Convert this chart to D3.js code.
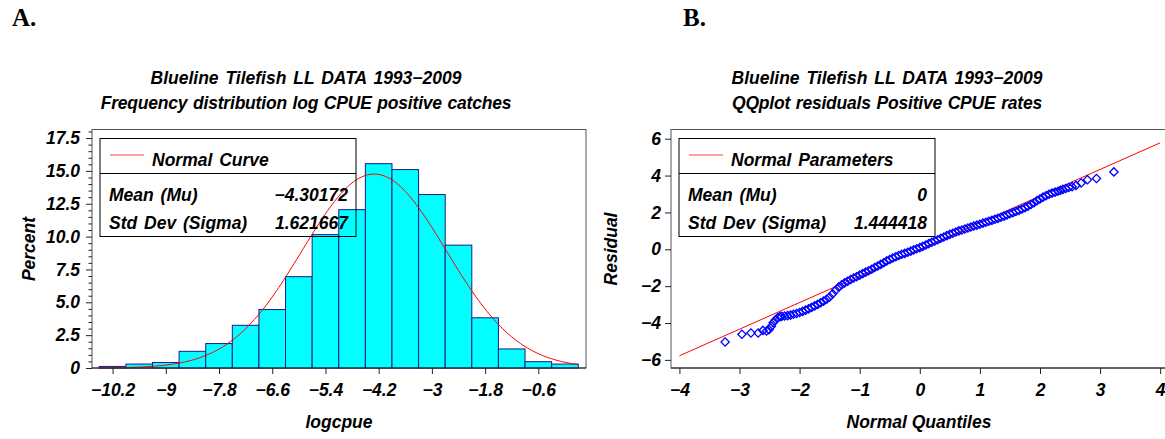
<!DOCTYPE html>
<html>
<head>
<meta charset="utf-8">
<script src="https://cdn.jsdelivr.net/npm/d3@7"></script>
<style>
  body { margin: 0; background: #fff; }
  svg text { font-family: "Liberation Sans", Arial, sans-serif; font-style: italic; font-weight: bold; font-size: 17.5px; fill: #000; }
  .axis path { display: none; }
  .axis line { stroke: #222; }
</style>
</head>
<body>
<div id="chart"></div>
<script>
// ---- panel A: histogram of log CPUE ----
const binMids = [-10.2, -9.6, -9.0, -8.4, -7.8, -7.2, -6.6, -6.0, -5.4, -4.8, -4.2, -3.6, -3.0, -2.4, -1.8, -1.2, -0.6, 0.0];
const binPercent = [0.12, 0.3, 0.42, 1.27, 1.86, 3.25, 4.45, 6.95, 10.15, 12.05, 15.55, 15.1, 13.2, 9.35, 3.82, 1.45, 0.48, 0.3];
const binWidth = 0.6;
const histXTicks = [-10.2, -9, -7.8, -6.6, -5.4, -4.2, -3, -1.8, -0.6];
const histYTicks = [0, 2.5, 5, 7.5, 10, 12.5, 15, 17.5];
const histYLabels = ["0", "2.5", "5.0", "7.5", "10.0", "12.5", "15.0", "17.5"];
const histMu = -4.30172;
const histSigma = 1.621667;

// ---- panel B: QQ plot of residuals ----
const qqQuantiles = [
  -3.24, -2.96, -2.81, -2.69, -2.61, -2.55, -2.51, -2.47, -2.44, -2.40, -2.36, -2.33,
  -2.30, -2.25, -2.20, -2.15, -2.10, -2.05, -2.00, -1.95, -1.90, -1.85, -1.80, -1.75,
  -1.70, -1.65, -1.60, -1.55, -1.50, -1.45, -1.40, -1.35, -1.30, -1.25, -1.20, -1.15,
  -1.10, -1.05, -1.00, -0.95, -0.90, -0.85, -0.80, -0.75, -0.70, -0.65, -0.60, -0.55,
  -0.50, -0.45, -0.40, -0.35, -0.30, -0.25, -0.20, -0.15, -0.10, -0.05, 0.00, 0.05,
  0.10, 0.15, 0.20, 0.25, 0.30, 0.35, 0.40, 0.45, 0.50, 0.55, 0.60, 0.65,
  0.70, 0.75, 0.80, 0.85, 0.90, 0.95, 1.00, 1.05, 1.10, 1.15, 1.20, 1.25,
  1.30, 1.35, 1.40, 1.45, 1.50, 1.55, 1.60, 1.65, 1.70, 1.75, 1.80, 1.85,
  1.90, 1.95, 2.00, 2.05, 2.10, 2.15, 2.20, 2.25, 2.30,
  2.34, 2.38, 2.43, 2.48, 2.535, 2.60, 2.685, 2.79, 2.94, 3.23
];
const qqResiduals = [
  -5.03, -4.61, -4.54, -4.54, -4.40, -4.43, -4.36, -4.18, -3.98, -3.82, -3.70, -3.66,
  -3.64, -3.62, -3.60, -3.57, -3.52, -3.48, -3.43, -3.37, -3.30, -3.23, -3.15, -3.07,
  -2.99, -2.90, -2.81, -2.71, -2.59, -2.41, -2.22, -2.05, -1.92, -1.82, -1.73, -1.64,
  -1.56, -1.49, -1.40, -1.32, -1.24, -1.16, -1.08, -0.99, -0.91, -0.82, -0.73, -0.63,
  -0.55, -0.47, -0.40, -0.34, -0.27, -0.22, -0.16, -0.10, -0.03, 0.03, 0.09, 0.16,
  0.23, 0.31, 0.38, 0.45, 0.52, 0.60, 0.67, 0.74, 0.81, 0.87, 0.94, 1.00,
  1.05, 1.10, 1.16, 1.21, 1.26, 1.31, 1.36, 1.42, 1.47, 1.52, 1.57, 1.63,
  1.68, 1.74, 1.80, 1.86, 1.93, 1.99, 2.05, 2.11, 2.19, 2.26, 2.34, 2.43,
  2.53, 2.64, 2.73, 2.83, 2.91, 2.99, 3.05, 3.10, 3.15,
  3.20, 3.25, 3.30, 3.35, 3.40, 3.47, 3.60, 3.77, 3.84, 4.20
];
const qqXTicks = [-4, -3, -2, -1, 0, 1, 2, 3, 4];
const qqYTicks = [-6, -4, -2, 0, 2, 4, 6];
const qqMu = 0;
const qqSigma = 1.444418;

const minus = s => String(s).replace("-", "\u2212");

const svg = d3.select("#chart").append("svg")
    .attr("width", 1165)
    .attr("height", 439);

// panel letters
svg.selectAll(".panel-letter")
    .data([{ t: "A.", x: 12 }, { t: "B.", x: 683 }])
    .join("text")
    .attr("x", d => d.x)
    .attr("y", 26)
    .style("font-family", "'Liberation Serif', 'Times New Roman', serif")
    .style("font-style", "normal")
    .style("font-size", "25px")
    .text(d => d.t);

function titles(cx, line2) {
    svg.append("text").attr("x", cx).attr("y", 84).attr("text-anchor", "middle")
        .style("word-spacing", "2px").text("Blueline Tilefish LL DATA 1993\u22122009");
    svg.append("text").attr("x", cx).attr("y", 109).attr("text-anchor", "middle")
        .style("word-spacing", "1px").style("letter-spacing", "-0.2px").text(line2);
}

function legend(left, header, rows) {
    const top = 138.5, right = left + 256;
    const g = svg.append("g");
    g.append("rect").attr("x", left).attr("y", top).attr("width", right - left).attr("height", 98)
        .attr("fill", "none").attr("stroke", "#000");
    g.append("line").attr("x1", left).attr("x2", right).attr("y1", 173.5).attr("y2", 173.5).attr("stroke", "#000");
    g.append("line").attr("x1", left + 10).attr("x2", left + 44).attr("y1", 155).attr("y2", 155)
        .attr("stroke", "#ff4040").attr("stroke-width", 1);
    g.append("text").attr("x", left + 52).attr("y", 166).style("word-spacing", "2px").text(header);
    rows.forEach((r, i) => {
        const y = i === 0 ? 201 : 228.5;
        g.append("text").attr("x", left + 9).attr("y", y).style("word-spacing", "2px").text(r[0]);
        g.append("text").attr("x", right - 8).attr("y", y).attr("text-anchor", "end").text(r[1]);
    });
}

// ================= panel A =================
const hx = d3.scaleLinear().domain([-10.664, 0.475]).range([92, 586]);
const hy = d3.scaleLinear().domain([0, 18.15]).range([368, 129.5]);

titles(306, "Frequency distribution log CPUE positive catches");

svg.append("rect").attr("x", 92).attr("y", 129.5).attr("width", 494).attr("height", 238.5)
    .attr("fill", "none").attr("stroke", "#555");

svg.append("g").selectAll("rect")
    .data(binMids.map((m, i) => ({ m, p: binPercent[i] })))
    .join("rect")
    .attr("x", d => hx(d.m - binWidth / 2))
    .attr("width", d => hx(d.m + binWidth / 2) - hx(d.m - binWidth / 2))
    .attr("y", d => hy(d.p))
    .attr("height", d => hy(0) - hy(d.p))
    .attr("fill", "#00ffff")
    .attr("stroke", "#1a1a8a")
    .attr("stroke-width", 1);

// fitted normal curve (percent per bin)
const curveXs = d3.range(-10.5, 0.3001, 0.05);
const normalPct = x => 100 * binWidth / (histSigma * Math.sqrt(2 * Math.PI)) *
    Math.exp(-0.5 * Math.pow((x - histMu) / histSigma, 2));
svg.append("path")
    .datum(curveXs)
    .attr("d", d3.line().x(d => hx(d)).y(d => hy(normalPct(d))))
    .attr("fill", "none")
    .attr("stroke", "#ff0000")
    .attr("stroke-width", 1);

svg.append("g").attr("class", "axis")
    .attr("transform", "translate(92,0)")
    .call(d3.axisLeft(hy).tickValues(histYTicks).tickFormat((d, i) => histYLabels[i]).tickSize(6).tickPadding(6));
svg.append("g").attr("class", "axis")
    .attr("transform", "translate(92,0)")
    .call(d3.axisLeft(hy).tickValues(d3.range(0, 18.01, 0.5).filter(v => v % 2.5 !== 0)).tickFormat("").tickSize(3.5));
svg.append("line").attr("x1", 92).attr("x2", 586).attr("y1", 368).attr("y2", 368).attr("stroke", "#222");
svg.append("g").attr("class", "axis")
    .attr("transform", "translate(0,368)")
    .call(d3.axisBottom(hx).tickValues(histXTicks).tickFormat(minus).tickSize(6).tickPadding(10));

legend(100, "Normal Curve", [["Mean (Mu)", minus(histMu)], ["Std Dev (Sigma)", String(histSigma)]]);

svg.append("text").attr("transform", "translate(35,249) rotate(-90)").attr("text-anchor", "middle").text("Percent");
svg.append("text").attr("x", 339).attr("y", 428).attr("text-anchor", "middle").text("logcpue");

// ================= panel B =================
const qx = d3.scaleLinear().domain([-4.14, 4.15]).range([671, 1169.2]);
const qy = d3.scaleLinear().domain([-6.44, 6.5]).range([368, 129.5]);

titles(887, "QQplot residuals Positive CPUE rates");

svg.append("rect").attr("x", 671).attr("y", 129.5).attr("width", 498).attr("height", 238.5)
    .attr("fill", "none").attr("stroke", "#555");

svg.append("path")
    .datum([-4, 4])
    .attr("d", d3.line().x(d => qx(d)).y(d => qy(qqMu + qqSigma * d)))
    .attr("stroke", "#ff0000")
    .attr("stroke-width", 1);

const diamond = d3.symbol().type(d3.symbolSquare).size(34);
svg.append("g").selectAll("path")
    .data(qqQuantiles.map((q, i) => ({ q, r: qqResiduals[i] })))
    .join("path")
    .attr("d", diamond)
    .attr("transform", d => `translate(${qx(d.q)},${qy(d.r)}) rotate(45)`)
    .attr("fill", "none")
    .attr("stroke", "#0000ff")
    .attr("stroke-width", 1.3);

svg.append("g").attr("class", "axis")
    .attr("transform", "translate(671,0)")
    .call(d3.axisLeft(qy).tickValues(qqYTicks).tickFormat(minus).tickSize(6).tickPadding(4));
svg.append("line").attr("x1", 671).attr("x2", 1165).attr("y1", 368).attr("y2", 368).attr("stroke", "#222");
svg.append("g").attr("class", "axis")
    .attr("transform", "translate(0,368)")
    .call(d3.axisBottom(qx).tickValues(qqXTicks).tickFormat(minus).tickSize(6).tickPadding(10));

legend(679, "Normal Parameters", [["Mean (Mu)", String(qqMu)], ["Std Dev (Sigma)", String(qqSigma)]]);

svg.append("text").attr("transform", "translate(617,249) rotate(-90)").attr("text-anchor", "middle").text("Residual");
svg.append("text").attr("x", 919).attr("y", 428).attr("text-anchor", "middle").text("Normal Quantiles");
</script>
</body>
</html>
